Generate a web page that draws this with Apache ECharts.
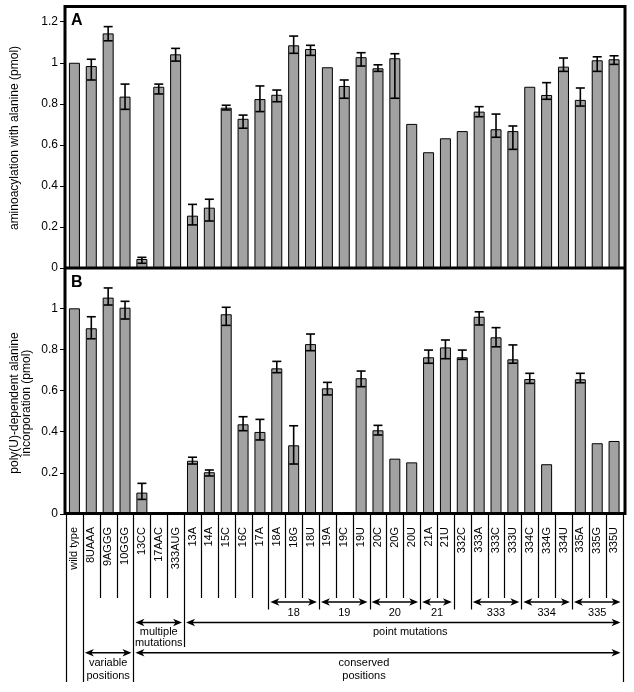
<!DOCTYPE html>
<html><head><meta charset="utf-8">
<script src="https://cdn.jsdelivr.net/npm/echarts@6/dist/echarts.min.js"></script>
<style>html,body{margin:0;padding:0;background:#fff}#c{width:634px;height:692px}</style>
</head><body><div id="c"></div>
<script>
// ---------- data ----------
const categories = ['wild type','8UAAA','9AGGG','10GGG','13CC','17AAC','333AUG','13A','14A','15C','16C','17A',
  '18A','18G','18U','19A','19C','19U','20C','20G','20U','21A','21U','332C','333A','333C','333U',
  '334C','334G','334U','335A','335G','335U'];

// Panel A: aminoacylation with alanine (pmol)
const aValues  = [1.00,0.984,1.143,0.835,0.044,0.883,1.041,0.255,0.294,0.781,0.727,0.823,
  0.844,1.085,1.067,0.978,0.887,1.027,0.973,1.022,0.702,0.564,0.632,0.667,0.762,0.676,0.667,
  0.883,0.843,0.981,0.819,1.012,1.017];
const aErrLow  = [null,0.916,1.107,0.773,0.023,0.848,1.008,0.210,0.229,0.770,0.681,0.762,
  0.810,1.046,1.036,null,0.827,0.984,0.958,0.827,null,null,null,null,0.737,0.637,0.578,
  null,0.822,0.958,0.789,0.958,0.992];
const aErrHigh = [null,1.017,1.176,0.896,0.052,0.896,1.070,0.310,0.335,0.793,0.745,0.887,
  0.867,1.130,1.085,null,0.916,1.049,0.990,1.044,null,null,null,null,0.786,0.750,0.692,
  null,0.903,1.023,0.877,1.029,1.034];

// Panel B: poly(U)-dependent alanine incorporation (pmol)
const bValues  = [1.00,0.903,1.052,1.003,0.104,0,0,0.259,0.203,0.971,0.436,0.399,
  0.708,0.334,0.826,0.611,0,0.660,0.407,0.269,0.251,0.762,0.810,0.762,0.959,0.859,0.752,
  0.656,0.242,0,0.655,0.344,0.355];
const bErrLow  = [null,0.852,1.016,0.948,0.071,null,null,0.243,0.185,0.917,0.405,0.360,
  0.687,0.243,0.794,0.579,null,0.619,0.384,null,null,0.733,0.755,0.752,0.919,0.813,0.733,
  0.635,null,null,0.638,null,null];
const bErrHigh = [null,0.959,1.099,1.034,0.149,null,null,0.276,0.214,1.005,0.473,0.460,
  0.742,0.429,0.875,0.640,null,0.695,0.431,null,null,0.797,0.846,0.797,0.983,0.906,0.822,
  0.684,null,null,0.684,null,null];

// annotation groups below the axis: [label, first category, last category]
const positionGroups = [['18','18A','18U'],['19','19A','19U'],['20','20C','20U'],['21','21A','21U'],
  ['333','333A','333U'],['334','334C','334U'],['335','335A','335U']];
const mutationGroups = [['multiple\nmutations','13CC','333AUG'],['point mutations','13A','335U']];
const regionGroups = [['variable\npositions','8UAAA','10GGG'],['conserved\npositions','13CC','335U']];

const titleA = 'aminoacylation with alanine (pmol)';
const titleB = 'poly(U)-dependent alanine\nincorporation (pmol)';

// ---------- layout ----------
const FONT = '"Liberation Sans", Arial, Helvetica, sans-serif';
const LY = {left:66, right:622.5, zeroA:268, zeroB:514, maxA:1.27, maxB:1.196, pxPerUnitA:205.25};
const gridAtop = LY.zeroA - LY.maxA*LY.pxPerUnitA;
const labelNudge = {'point mutations':7, 'conserved\npositions':-14};

const chart = echarts.init(document.getElementById('c'), null, {renderer:'canvas'});

function errData(low, high){
  const out = [];
  low.forEach((l,i)=>{ if(l!=null) out.push([i,l,high[i]]); });
  return out;
}
function errRender(params, api){
  const lo = api.coord([api.value(0), api.value(1)]);
  const hi = api.coord([api.value(0), api.value(2)]);
  const hw = 4.5, st = {stroke:'#000', lineWidth:1.6};
  return {type:'group', children:[
    {type:'line', shape:{x1:lo[0],y1:lo[1],x2:hi[0],y2:hi[1]}, style:st},
    {type:'line', shape:{x1:lo[0]-hw,y1:lo[1],x2:lo[0]+hw,y2:lo[1]}, style:st},
    {type:'line', shape:{x1:hi[0]-hw,y1:hi[1],x2:hi[0]+hw,y2:hi[1]}, style:st}
  ]};
}
const yAxisCommon = {
  type:'value', min:0, interval:0.2,
  axisLine:{show:false}, splitLine:{show:false},
  axisTick:{show:true, length:6, lineStyle:{color:'#000', width:1}},
  axisLabel:{color:'#000', fontSize:12, fontFamily:FONT, margin:8, showMaxLabel:false}
};
const barStyle = {color:'#a2a2a2', borderColor:'#000', borderWidth:1};

chart.setOption({
  animation:false,
  backgroundColor:'#fff',
  grid:[
    {left:LY.left, width:LY.right-LY.left, top:gridAtop, height:LY.zeroA-gridAtop},
    {left:LY.left, width:LY.right-LY.left, top:LY.zeroA, height:LY.zeroB-LY.zeroA}
  ],
  xAxis:[
    {type:'category', gridIndex:0, data:categories, show:false},
    {type:'category', gridIndex:1, data:categories,
      axisLine:{show:false}, axisTick:{show:false},
      axisLabel:{interval:0, rotate:90, fontSize:11, color:'#000', fontFamily:FONT, margin:13}}
  ],
  yAxis:[
    Object.assign({gridIndex:0, max:LY.maxA}, yAxisCommon),
    Object.assign({gridIndex:1, max:LY.maxB}, yAxisCommon)
  ],
  series:[
    {type:'bar', xAxisIndex:0, yAxisIndex:0, data:aValues, barWidth:11, itemStyle:barStyle},
    {type:'bar', xAxisIndex:1, yAxisIndex:1, data:bValues, barWidth:11, itemStyle:barStyle},
    {type:'custom', xAxisIndex:0, yAxisIndex:0, data:errData(aErrLow,aErrHigh), encode:{x:0,y:[1,2]}, renderItem:errRender, z:5},
    {type:'custom', xAxisIndex:1, yAxisIndex:1, data:errData(bErrLow,bErrHigh), encode:{x:0,y:[1,2]}, renderItem:errRender, z:5}
  ]
});

// ---------- frame and annotations ----------
const xs = categories.map(c => chart.convertToPixel({xAxisIndex:1}, c));
const half = (xs[1]-xs[0])/2;
const N = categories.length;
const bx = i => (i < N ? xs[i]-half : xs[N-1]+half);
const idx = c => categories.indexOf(c);

const levels = [
  {groups:positionGroups, arrowY:602, textTop:606.5, lineH:12, lineEnd:609.5},
  {groups:mutationGroups, arrowY:622.5, textTop:626, lineH:11.6, lineEnd:647},
  {groups:regionGroups, arrowY:652.7, textTop:657, lineH:12.8, lineEnd:682}
];
const boundaryEnd = new Array(N+1).fill(598);
boundaryEnd[0] = levels[2].lineEnd; boundaryEnd[N] = levels[2].lineEnd;
levels.forEach(lv => lv.groups.forEach(g => {
  const s = idx(g[1]), e = idx(g[2])+1;
  boundaryEnd[s] = Math.max(boundaryEnd[s], lv.lineEnd);
  boundaryEnd[e] = Math.max(boundaryEnd[e], lv.lineEnd);
}));

const G = [];
const frameLeft = 65, frameRight = 625, frameTop = 6.5, frameBottom = 513.5;
const fs = {stroke:'#000', lineWidth:3, fill:null};
G.push({type:'rect', shape:{x:frameLeft, y:frameTop, width:frameRight-frameLeft, height:frameBottom-frameTop}, style:fs, z:100});
G.push({type:'line', shape:{x1:frameLeft, y1:LY.zeroA, x2:frameRight, y2:LY.zeroA}, style:{stroke:'#000', lineWidth:3}, z:100});

for (let i=0;i<=N;i++){
  const x = Math.round(bx(i))+0.5;
  G.push({type:'line', shape:{x1:x, y1:frameBottom, x2:x, y2:boundaryEnd[i]}, style:{stroke:'#000', lineWidth:1.2}, z:90});
}
function arrowHead(tipX, y, dir){
  return {type:'polygon', shape:{points:[[tipX,y],[tipX+dir*9,y-3.8],[tipX+dir*6.5,y],[tipX+dir*9,y+3.8]]},
    style:{fill:'#000'}, z:95};
}
levels.forEach(lv => lv.groups.forEach(g => {
  const x1 = bx(idx(g[1]))+2, x2 = bx(idx(g[2])+1)-2, y = lv.arrowY;
  G.push({type:'line', shape:{x1:x1+3, y1:y, x2:x2-3, y2:y}, style:{stroke:'#000', lineWidth:1.4}, z:95});
  G.push(arrowHead(x1, y, 1));
  G.push(arrowHead(x2, y, -1));
  G.push({type:'text', x:(x1+x2)/2 + (labelNudge[g[0]]||0), y:lv.textTop, z:95,
    style:{text:g[0], font:'11px '+FONT, fill:'#000', align:'center', verticalAlign:'top', lineHeight:lv.lineH}});
}));

// panel letters
G.push({type:'text', x:71, y:13, z:100, style:{text:'A', font:'bold 16px '+FONT, fill:'#000'}});
G.push({type:'text', x:71, y:274.5, z:100, style:{text:'B', font:'bold 16px '+FONT, fill:'#000'}});
// y-axis titles
G.push({type:'text', x:15, y:138, rotation:Math.PI/2, z:100,
  style:{text:titleA, font:'12px '+FONT, fill:'#000', align:'center', verticalAlign:'middle'}});
G.push({type:'text', x:20.5, y:403, rotation:Math.PI/2, z:100,
  style:{text:titleB, font:'12px '+FONT, fill:'#000', align:'center', verticalAlign:'middle', lineHeight:11.5}});

chart.setOption({graphic:G});
</script>
</body></html>
